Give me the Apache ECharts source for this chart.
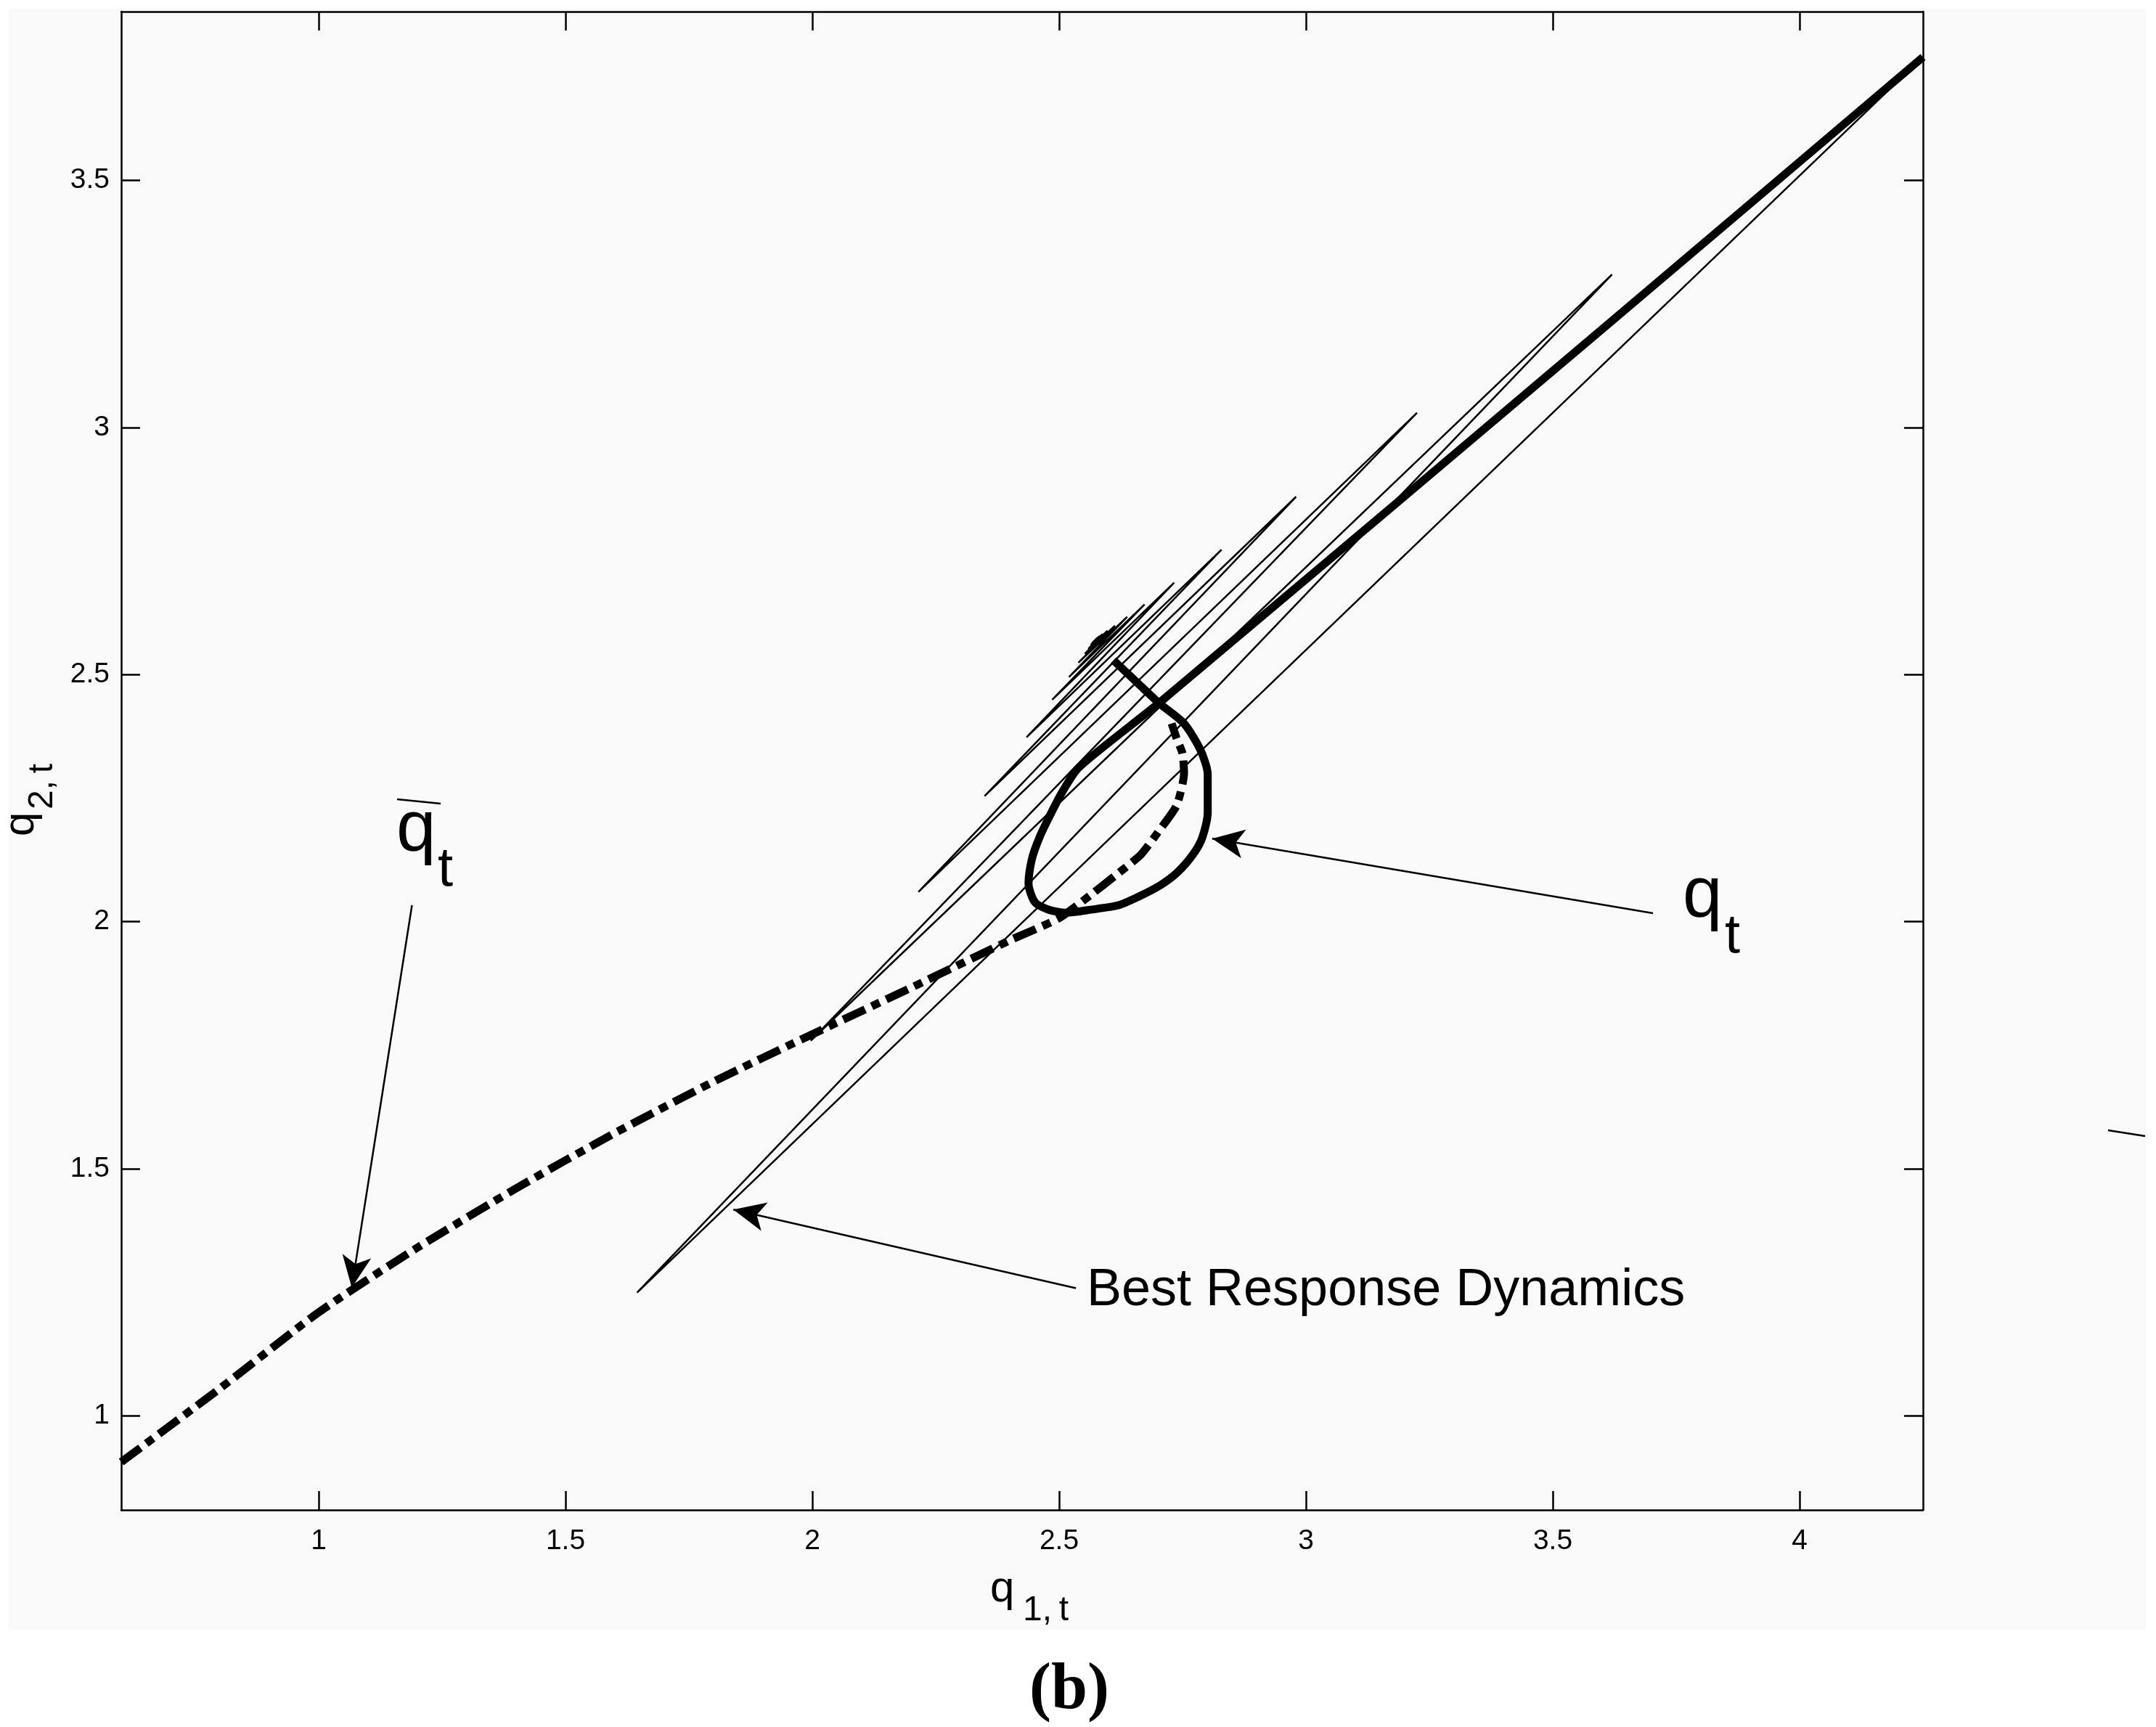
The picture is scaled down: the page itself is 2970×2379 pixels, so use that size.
<!DOCTYPE html>
<html><head><meta charset="utf-8">
<script src="https://cdn.jsdelivr.net/npm/echarts@6/dist/echarts.min.js"></script>
<style>html,body{margin:0;padding:0;background:#fff;}#c{width:2970px;height:2379px;}</style>
</head><body><div id="c"></div>
<script>
// ---- data ----
const xTicks = [1, 1.5, 2, 2.5, 3, 3.5, 4];
const yTicks = [1, 1.5, 2, 2.5, 3, 3.5];
const xRange = [0.6, 4.25];
const yRange = [0.809, 3.842];

// q-bar_t (dash-dot curve)
const qbarX = [0.600,0.800,1.000,1.200,1.400,1.600,1.800,2.000,2.200,2.400,2.500,2.564,2.620,2.666,2.704,2.738,2.753,2.750,2.738,2.728];
const qbarY = [0.906,1.055,1.209,1.340,1.460,1.572,1.676,1.772,1.866,1.962,2.007,2.054,2.098,2.136,2.186,2.235,2.300,2.340,2.371,2.401];

// q_t (thick solid curve)
const qtX = [2.610,2.660,2.704,2.753,2.786,2.801,2.801,2.790,2.772,2.740,2.704,2.660,2.620,2.564,2.513,2.479,2.451,2.438,2.445,2.460,2.479,2.505,2.540,2.708,3.620,4.250];
const qtY = [2.529,2.482,2.441,2.401,2.348,2.298,2.220,2.170,2.137,2.100,2.073,2.050,2.033,2.024,2.018,2.024,2.039,2.077,2.127,2.170,2.210,2.260,2.312,2.447,3.216,3.750];

// best response dynamics path (thin)
const brX = [4.25,1.645,3.62,1.997,3.225,2.215,2.98,2.349,2.829,2.434,2.733,2.486,2.673,2.520,2.638,2.539,2.613,2.552,2.598,2.559,2.588,2.564,2.582,2.567,2.578];
const brY = [3.75,1.249,3.31,1.759,3.03,2.06,2.86,2.254,2.753,2.373,2.686,2.449,2.642,2.495,2.617,2.524,2.599,2.542,2.589,2.552,2.582,2.560,2.578,2.564,2.575];

// annotation arrows: [tail, head]
const arrowTails = [[1.189, 2.033], [3.703, 2.017], [2.534, 1.258]];
const arrowHeads = [[1.067, 1.259], [2.810, 2.168], [1.840, 1.417]];

// ---- chart ----
const zip = (xs, ys) => xs.map((x, i) => [x, ys[i]]);
const chart = echarts.init(document.getElementById('c'), null, {renderer: 'canvas'});
const FONT = 'Liberation Sans, Arial, Helvetica, sans-serif';

function txt(text, x, baseline, size, extra) {
  return Object.assign({
    type: 'text', x: x, y: baseline - 0.35 * size, z: 50,
    style: {text: text, fill: '#000', font: size + 'px ' + FONT, align: 'left', verticalAlign: 'middle'}
  }, extra || {});
}
function seg(x1, y1, x2, y2, w) {
  return {type: 'line', z: 50, shape: {x1: x1, y1: y1, x2: x2, y2: y2}, style: {stroke: '#000', lineWidth: w || 2.5}};
}

const axisCommon = (pos, ticks, showLabel) => ({
  type: 'value', position: pos, min: pos === 'bottom' || pos === 'top' ? xRange[0] : yRange[0],
  max: pos === 'bottom' || pos === 'top' ? xRange[1] : yRange[1],
  axisLine: {show: true, onZero: false, lineStyle: {color: '#000', width: 2.5}},
  axisTick: {show: true, inside: true, length: 26, customValues: ticks, lineStyle: {color: '#000', width: 2.5}},
  axisLabel: {show: showLabel, customValues: ticks, color: '#000', fontSize: 39, fontFamily: FONT,
    margin: (pos === 'bottom' ? 24 : 16), formatter: v => String(v)},
  splitLine: {show: false}
});

const option = {
  backgroundColor: '#ffffff',
  animation: false,
  grid: {left: 167, top: 16, width: 2482, height: 2064, containLabel: false},
  xAxis: [axisCommon('bottom', xTicks, true), axisCommon('top', xTicks, false)],
  yAxis: [axisCommon('left', yTicks, true), axisCommon('right', yTicks, false)],
  series: [
    {
      name: 'Best Response Dynamics', type: 'line', data: zip(brX, brY), showSymbol: false, symbol: 'none',
      lineStyle: {color: '#000', width: 2.5}, z: 3, silent: true,
      markLine: {
        silent: true, symbol: ['none', 'arrow'], symbolSize: [30, 44], precision: 4,
        label: {show: false}, lineStyle: {color: '#000', width: 2.5, type: 'solid'},
        emphasis: {disabled: true},
        data: arrowTails.map((t, i) => [{coord: t}, {coord: arrowHeads[i]}])
      }
    },
    {
      name: 'qbar', type: 'line', data: zip(qbarX, qbarY), showSymbol: false, symbol: 'none', smooth: 0.2,
      lineStyle: {color: '#000', width: 11, type: [33, 10, 12, 10], cap: 'butt'}, z: 4, silent: true
    },
    {
      name: 'qt', type: 'line', data: zip(qtX, qtY), showSymbol: false, symbol: 'none', smooth: 0.25,
      lineStyle: {color: '#000', width: 11, cap: 'butt', join: 'round'}, z: 5, silent: true
    }
  ],
  graphic: [
    {type: 'rect', z: -100, shape: {x: 12, y: 12, width: 2944, height: 2233}, style: {fill: '#f9f9f9'}, silent: true},
    // q-bar_t label
    txt('q', 546, 1179, 98), txt('t', 603, 1226, 76), seg(547, 1101, 607, 1107),
    // q_t label
    txt('q', 2318, 1270, 98), txt('t', 2376, 1318, 76),
    // stray bar at right
    seg(2904, 1557, 2955, 1565),
    // Best Response Dynamics
    txt('Best Response Dynamics', 1497, 1803, 72),
    // x axis title
    txt('q', 1364, 2210, 60), txt('1,\u2009t', 1409, 2236, 48),
    // y axis title (rotated)
    {type: 'group', x: 50, y: 1152, rotation: Math.PI / 2, children: [
      txt('q', 0, 0, 60), txt('2,\u2009t', 37, 26, 48)
    ]},
    // panel label
    {type: 'text', x: 1473, y: 2330, z: 50, style: {text: '(b)', fill: '#000', font: 'bold 90px "Liberation Serif", "DejaVu Serif", serif', align: 'center', verticalAlign: 'middle'}}
  ]
};
chart.setOption(option);
</script></body></html>
